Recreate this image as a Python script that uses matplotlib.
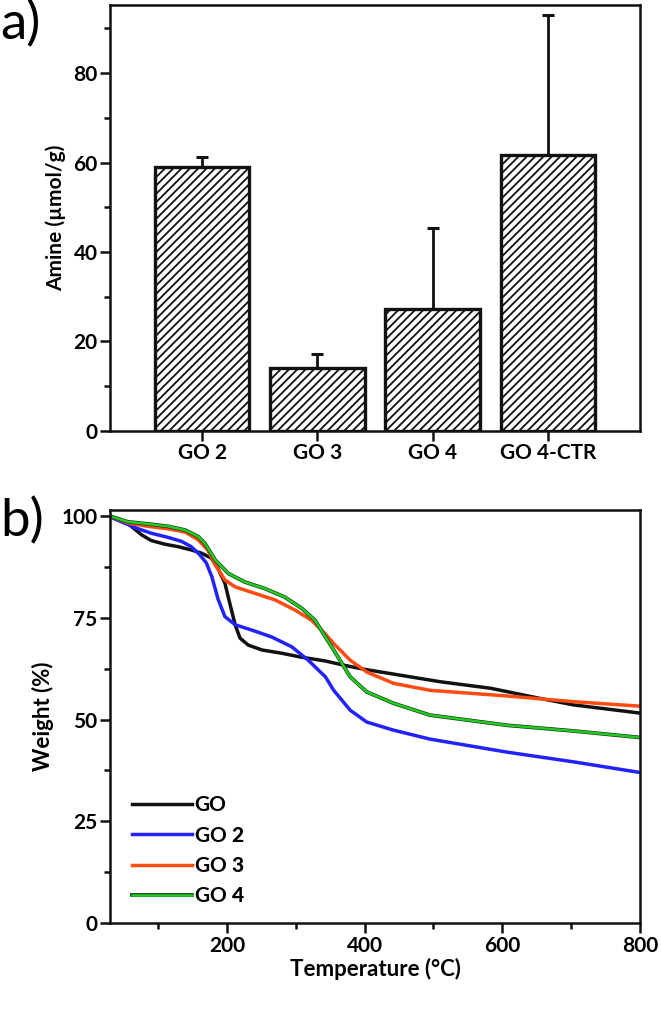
import matplotlib
matplotlib.use("Agg")
import matplotlib.pyplot as plt
import matplotlib.patheffects as pe
import numpy as np

plt.rcParams['font.family'] = ['Lato', 'DejaVu Sans']
plt.rcParams['font.weight'] = 'bold'
plt.rcParams['axes.labelweight'] = 'bold'
plt.rcParams['mathtext.fontset'] = 'custom'
plt.rcParams['mathtext.rm'] = 'Lato:bold'
plt.rcParams['mathtext.bf'] = 'Lato:black'
plt.rcParams['hatch.linewidth'] = 1.3

# panel a: amine loading
samples = ["GO 2", "GO 3", "GO 4", "GO 4-CTR"]
amine = [59.0, 14.0, 27.2, 61.7]
amine_err = [2.2, 3.2, 18.2, 31.3]

# panel b: TGA curves (temperature in C, weight in %)
T_go = [30, 46, 61, 76, 90, 110, 129, 148, 163, 177, 187, 197, 204, 212, 219, 231, 251, 280, 306, 343,
        369, 398, 510, 583, 655, 704, 800]
W_go = [100, 99.1, 97.5, 95.4, 94.0, 93.1, 92.5, 91.7, 90.9, 89.7, 87.1, 83.5, 78.6, 73.2, 70.0, 68.3, 67.1,
        66.3, 65.4, 64.4, 63.4, 62.4, 59.3, 57.7, 55.2, 53.6, 51.6]

T_go2 = [30, 51, 71, 90, 114, 134, 148, 160, 170, 178, 187, 197, 212, 236, 265, 294, 318, 343, 355, 379,
         403, 442, 495, 607, 704, 800]
W_go2 = [99.8, 98.3, 96.9, 95.8, 94.8, 93.8, 92.5, 90.6, 88.5, 85.1, 79.6, 75.3, 73.3, 72.0, 70.3, 67.9,
         64.6, 60.5, 57.2, 52.3, 49.4, 47.4, 45.2, 42.0, 39.6, 37.0]

T_go3 = [30, 56, 85, 114, 139, 158, 172, 183, 197, 212, 241, 270, 299, 323, 343, 355, 379, 403, 442, 495,
         607, 704, 800]
W_go3 = [100, 98.3, 97.5, 96.9, 96.1, 94.2, 91.7, 88.0, 84.3, 82.6, 81.0, 79.4, 76.9, 74.4, 71.0, 68.7,
         64.6, 61.7, 58.9, 57.2, 55.8, 54.4, 53.3]

T_go4 = [30, 56, 85, 114, 139, 158, 168, 183, 202, 226, 255, 284, 309, 328, 343, 355, 379, 403, 442, 495,
         607, 704, 800]
W_go4 = [100, 98.6, 98.1, 97.5, 96.6, 95.0, 93.3, 89.2, 85.9, 83.8, 82.2, 80.1, 77.3, 74.4, 70.3, 67.1,
         60.5, 56.8, 54.0, 51.1, 48.6, 47.2, 45.6]

fig = plt.figure(figsize=(6.61, 10.10), dpi=100)
ax1 = fig.add_axes([0.1664, 0.5733, 0.8018, 0.4217])
ax2 = fig.add_axes([0.1664, 0.0861, 0.8018, 0.4089])

x = np.arange(len(samples))
ax1.bar(x, amine, width=0.82, color='white', edgecolor='#111111', linewidth=2.4, hatch='////', zorder=2)
ax1.errorbar(x, amine, yerr=[np.zeros(len(amine)), amine_err], fmt='none', ecolor='#111111',
             elinewidth=2, capsize=4.5, capthick=2.2, zorder=1)
ax1.set_xlim(-0.8, 3.8)
ax1.set_ylim(0, 95.2)
ax1.set_xticks(x)
ax1.set_xticklabels(samples)
ax1.set_yticks([0, 20, 40, 60, 80])
ax1.set_yticks([10, 30, 50, 70, 90], minor=True)
ax1.set_ylabel("Amine (µmol/g)", fontsize=15, labelpad=5)

curves = [(T_go, W_go, 'GO', '#111111'),
          (T_go2, W_go2, 'GO $\\mathbf{2}$', '#2222ff'),
          (T_go3, W_go3, 'GO $\\mathbf{3}$', '#ff4a12'),
          (T_go4, W_go4, 'GO $\\mathbf{4}$', '#22cc22')]
for T, W, lab, c in curves:
    if lab.endswith('4}$'):
        ax2.plot(T, W, color=c, lw=1.8, label=lab, solid_joinstyle='round',
                 path_effects=[pe.Stroke(linewidth=2.7, foreground='#113311'), pe.Normal()])
    else:
        ax2.plot(T, W, color=c, lw=2.5, label=lab, solid_joinstyle='round')
ax2.set_xlim(30, 800)
ax2.set_ylim(0, 101.5)
ax2.set_xticks([200, 400, 600, 800])
ax2.set_xticks([100, 300, 500, 700], minor=True)
ax2.set_yticks([0, 25, 50, 75, 100])
ax2.set_yticks([12.5, 37.5, 62.5, 87.5], minor=True)
ax2.set_xlabel("Temperature (°C)", fontsize=16, labelpad=2)
ax2.set_ylabel("Weight (%)", fontsize=16, labelpad=5)
ax2.legend(loc='lower left', bbox_to_anchor=(0.01, 0.0), frameon=False, fontsize=15,
           handlelength=2.9, handletextpad=0.1, labelspacing=0.5, borderaxespad=0.4)

for ax in (ax1, ax2):
    for s in ax.spines.values():
        s.set_linewidth(1.8)
        s.set_color('#111111')
    ax.tick_params(which='major', direction='out', length=7, width=1.8, labelsize=15, color='#111111', pad=2)
    ax.tick_params(which='minor', direction='out', length=4, width=1.8, color='#111111')
ax1.tick_params(axis='x', which='minor', bottom=False)

fig.text(0.0, 1.0, "a)", fontsize=38, fontweight='normal', va='top', ha='left')
fig.text(0.0, 0.508, "b)", fontsize=38, fontweight='normal', va='top', ha='left')

fig.savefig("out.png", dpi=100)
